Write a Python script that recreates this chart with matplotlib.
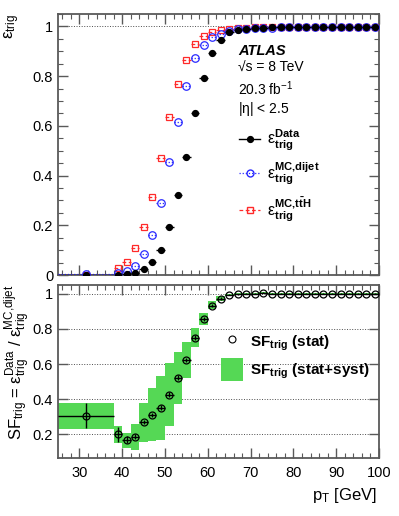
import numpy as np
import matplotlib
matplotlib.use("Agg")
import matplotlib.pyplot as plt
from matplotlib.ticker import MultipleLocator
from matplotlib.patches import Patch
from matplotlib.lines import Line2D

plt.rcParams['font.family'] = ['Liberation Sans', 'DejaVu Sans']
plt.rcParams['mathtext.fontset'] = 'custom'
plt.rcParams['mathtext.rm'] = 'Liberation Sans'
plt.rcParams['mathtext.it'] = 'Liberation Sans:italic'
plt.rcParams['mathtext.bf'] = 'Liberation Sans:bold'

# ---------------- data ----------------
pt = [31.5, 39, 41, 43, 45, 47, 49, 51, 53, 55, 57, 59, 61, 63, 65, 67,
      69, 71, 73, 75, 77, 79, 81, 83, 85, 87, 89, 91, 93, 95, 97, 99]
pt_halfwidth = [6.5] + [1.0] * 31

eff_data = [0.001, 0.002, 0.003, 0.007, 0.023, 0.051, 0.102, 0.192, 0.321, 0.475,
            0.651, 0.791, 0.893, 0.944, 0.976, 0.986, 0.991, 0.993, 0.995, 0.996,
            0.996, 0.997, 0.997, 0.998, 0.998, 0.998, 0.998, 0.998, 0.999, 0.999,
            0.999, 0.999]
eff_dijet = [0.003, 0.010, 0.017, 0.038, 0.083, 0.162, 0.289, 0.455, 0.616, 0.762,
             0.871, 0.926, 0.957, 0.969, 0.980, 0.988, 0.991, 0.993, 0.994, 0.995,
             0.996, 0.996, 0.997, 0.997, 0.997, 0.998, 0.998, 0.998, 0.998, 0.998,
             0.999, 0.999]
eff_tth = [0.002, 0.027, 0.054, 0.110, 0.192, 0.315, 0.471, 0.634, 0.767, 0.866,
           0.928, 0.962, 0.977, 0.985, 0.990, 0.993, 0.995, 0.996, 0.997, 0.997,
           0.998, 0.998, 0.998, 0.998, 0.999, 0.999, 0.999, 0.999, 0.999, 0.999,
           0.999, 0.999]

sf = [0.306, 0.200, 0.168, 0.186, 0.268, 0.312, 0.352, 0.426, 0.523, 0.624,
      0.751, 0.857, 0.933, 0.973, 0.995, 0.998, 1.000, 1.000, 1.006, 1.000,
      1.000, 1.000, 1.000, 1.000, 1.000, 1.000, 1.000, 1.000, 1.000, 1.000,
      1.000, 1.000]
sf_stat = [0.072, 0.043, 0.020, 0.015, 0.012, 0.012, 0.012, 0.012, 0.012, 0.012,
           0.012, 0.010, 0.008, 0.006, 0.004, 0.003, 0.003, 0.003, 0.003, 0.003,
           0.003, 0.003, 0.003, 0.003, 0.003, 0.003, 0.003, 0.003, 0.003, 0.003,
           0.003, 0.003]
sf_tot_lo = [0.230, 0.150, 0.120, 0.110, 0.157, 0.164, 0.169, 0.247, 0.371, 0.519,
             0.696, 0.823, 0.913, 0.958, 0.989, 0.993, 0.995, 0.995, 1.001, 0.995,
             0.995, 0.995, 0.995, 0.995, 0.995, 0.995, 0.995, 0.995, 0.995, 0.995,
             0.995, 0.995]
sf_tot_hi = [0.380, 0.250, 0.209, 0.257, 0.377, 0.466, 0.534, 0.605, 0.671, 0.728,
             0.804, 0.890, 0.956, 0.988, 1.001, 1.003, 1.005, 1.005, 1.011, 1.005,
             1.005, 1.005, 1.005, 1.005, 1.005, 1.005, 1.005, 1.005, 1.005, 1.005,
             1.005, 1.005]

x = np.array(pt)
xerr = np.array(pt_halfwidth)

fig = plt.figure(figsize=(3.99, 5.16), dpi=100)
ax1 = fig.add_axes([0.1454, 0.467, 0.8046, 0.506])
ax2 = fig.add_axes([0.1454, 0.1124, 0.8046, 0.3353])

frame_col = '0.35'
EPS = r'\mathrm{\varepsilon}'

def style(ax):
    for s in ax.spines.values():
        s.set_color(frame_col)
        s.set_linewidth(1.3)
    ax.tick_params(which='both', direction='in', top=True, right=True,
                   colors=frame_col, labelcolor='black', labelsize=10.5)
    ax.tick_params(which='major', length=7, width=1.0)
    ax.tick_params(which='minor', length=3.5, width=0.8)
    ax.xaxis.set_major_locator(MultipleLocator(10))
    ax.xaxis.set_minor_locator(MultipleLocator(2))
    ax.set_xlim(25, 100)

# ---------------- top panel ----------------
style(ax1)
ax1.set_ylim(0, 1.05)
ax1.yaxis.set_minor_locator(MultipleLocator(0.05))
ax1.set_yticks([0, 0.2, 0.4, 0.6, 0.8, 1.0])
ax1.set_yticklabels(['0', '0.2', '0.4', '0.6', '0.8', '1'])
ax1.tick_params(labelbottom=False)
ax1.axhline(1.0, color='0.3', lw=0.7, ls=':', zorder=0)

red = '#ff2a2a'
blue = '#2a2aff'
e_red = ax1.errorbar(x, eff_tth, xerr=xerr, fmt='s', ms=5.0, mfc='none', mec=red,
                     mew=0.9, ecolor=red, elinewidth=0.9, capsize=0, zorder=3)
e_red[2][0].set_linestyle((0, (3, 2)))
e_blue = ax1.errorbar(x, eff_dijet, xerr=xerr, fmt='o', ms=5.4, mfc='none', mec=blue,
                      mew=0.9, ecolor=blue, elinewidth=0.9, capsize=0, zorder=4)
e_blue[2][0].set_linestyle((0, (1, 1.5)))
ax1.errorbar(x, eff_data, xerr=xerr, fmt='o', ms=4.2, mfc='black', mec='black',
             ecolor='black', elinewidth=1.0, capsize=0, zorder=5)

tx = 0.562
ax1.text(tx, 0.857, 'ATLAS', transform=ax1.transAxes, fontsize=10.5,
         fontweight='bold', fontstyle='italic', va='center', ha='left')
ax1.text(tx, 0.792, '\u221as = 8 TeV', transform=ax1.transAxes, fontsize=10,
         va='center', ha='left')
ax1.text(tx, 0.713, r'20.3 fb$^{\mathregular{-1}}$', transform=ax1.transAxes, fontsize=10,
         va='center', ha='left')
ax1.text(tx, 0.636, r'|$\mathrm{\eta}$| < 2.5', transform=ax1.transAxes, fontsize=10,
         va='center', ha='left')

h_data = Line2D([], [], color='black', marker='o', ms=4.2, lw=1.0)
h_dij = Line2D([], [], color=blue, marker='o', ms=5.0, mfc='none', lw=0.9, ls=(0, (1, 1.5)))
h_tth = Line2D([], [], color=red, marker='s', ms=5.0, mfc='none', lw=0.9, ls=(0, (3, 2)))
ax1.legend([h_data, h_dij, h_tth],
           [r'$%s^{\mathbf{Data}}_{\mathbf{trig}}$' % EPS,
            r'$%s^{\mathbf{MC{,}dijet}}_{\mathbf{trig}}$' % EPS,
            r'$%s^{\mathbf{MC{,}t\bar{t}H}}_{\mathbf{trig}}$' % EPS],
           loc='center left', bbox_to_anchor=(0.545, 0.38), frameon=False,
           fontsize=11.5, handlelength=1.3, handletextpad=0.4, labelspacing=0.5,
           borderaxespad=0)

fig.text(0.03, 0.972, r'$%s_{\mathregular{trig}}$' % EPS, rotation=90,
         ha='center', va='top', fontsize=12)

# ---------------- bottom panel ----------------
style(ax2)
ax2.set_ylim(0.065, 1.05)
ax2.set_yticks([0.2, 0.4, 0.6, 0.8, 1.0])
ax2.set_yticklabels(['0.2', '0.4', '0.6', '0.8', '1'])
for yv in [0.2, 0.4, 0.6, 0.8, 1.0]:
    ax2.axhline(yv, color='0.3', lw=0.7, ls=':', zorder=0)

green = '#55d855'
ax2.bar(x, np.array(sf_tot_hi) - np.array(sf_tot_lo), bottom=sf_tot_lo,
        width=2 * xerr, color=green, edgecolor='none', zorder=1)
ax2.errorbar(x, sf, xerr=xerr, yerr=sf_stat, fmt='o', ms=5, mfc='none', mec='black',
             mew=0.9, ecolor='black', elinewidth=1.0, capsize=0, zorder=3)

h_stat = Line2D([], [], ls='none', marker='o', ms=5, mfc='none', mec='black', mew=0.8)
h_tot = Patch(facecolor=green, edgecolor='none')
ax2.legend([h_stat, h_tot],
           [r'$\mathbf{SF_{trig}}$ $\mathbf{(stat)}$',
            r'$\mathbf{SF_{trig}}$ $\mathbf{(stat{+}syst)}$'],
           loc='upper left', bbox_to_anchor=(0.49, 0.77), frameon=False,
           fontsize=11, handlelength=1.4, handleheight=1.9, handletextpad=0.5,
           labelspacing=0.3, borderaxespad=0)

ax2.set_xticks([30, 40, 50, 60, 70, 80, 90, 100])
ax2.set_xticklabels(['30', '40', '50', '60', '70', '80', '90', '100'])
ax2.tick_params(axis='x', pad=6)

fig.text(0.045, 0.449,
         r'SF$_{\mathregular{trig}}$ = $%s^{\mathregular{Data}}_{\mathregular{trig}}$ / $%s^{\mathregular{MC{,}dijet}}_{\mathregular{trig}}$' % (EPS, EPS),
         rotation=90, ha='center', va='top', fontsize=12)
fig.text(0.945, 0.04, r'p$_{\mathregular{T}}$ [GeV]', ha='right', va='center', fontsize=12)

fig.savefig('out.png', dpi=100)
